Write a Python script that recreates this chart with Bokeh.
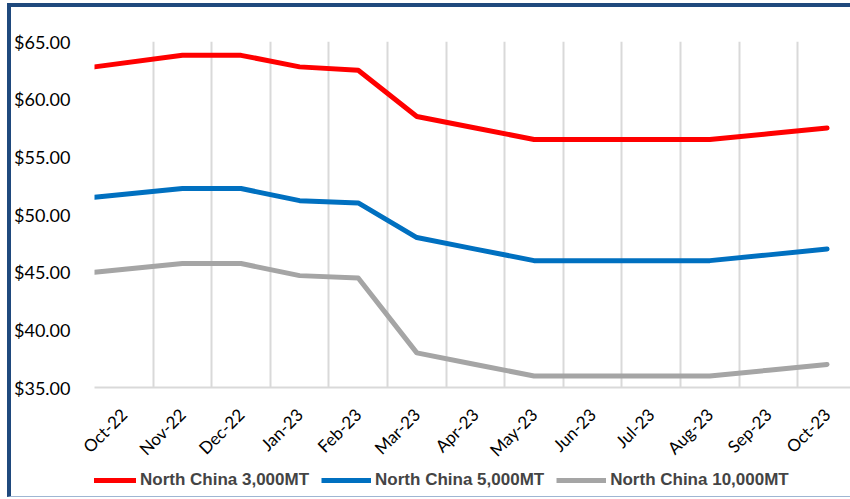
import math
from bokeh.plotting import figure
from bokeh.models import FixedTicker, Legend, LegendItem, Range1d
from bokeh.layouts import column
from bokeh.embed import file_html
from bokeh.resources import INLINE

# ---- data ----
months = ["Oct-22", "Nov-22", "Dec-22", "Jan-23", "Feb-23", "Mar-23", "Apr-23",
          "May-23", "Jun-23", "Jul-23", "Aug-23", "Sep-23", "Oct-23"]
# month index of each point (first point sits at the left edge of the plot)
x_pos = [-0.5, 1, 2, 3, 4, 5, 6, 7, 8, 9, 10, 11, 12]
nc_3000 = [62.8, 63.8, 63.8, 62.8, 62.5, 58.5, 57.5, 56.5, 56.5, 56.5, 56.5, 57.0, 57.5]
nc_5000 = [51.5, 52.25, 52.25, 51.2, 51.0, 48.0, 47.0, 46.0, 46.0, 46.0, 46.0, 46.5, 47.0]
nc_10000 = [45.0, 45.75, 45.75, 44.7, 44.5, 38.0, 37.0, 36.0, 36.0, 36.0, 36.0, 36.5, 37.0]
y_ticks = [35, 40, 45, 50, 55, 60, 65]
series_names = ["North China 3,000MT", "North China 5,000MT", "North China 10,000MT"]
colors = ["#FF0000", "#0070C0", "#A5A5A5"]
series = [nc_3000, nc_5000, nc_10000]

p = figure(width=839, height=464, output_backend="svg", toolbar_location=None,
           x_range=Range1d(-0.5, 12.4), y_range=Range1d(35, 65),
           min_border_left=80, min_border_right=0, min_border_top=34,
           min_border_bottom=84)
p.outline_line_color = None
p.background_fill_color = "white"

for ys, c in zip(series, colors):
    p.line(x_pos, ys, line_color=c, line_width=5, line_join="round", line_cap="round")

# axes
p.xaxis.ticker = FixedTicker(ticks=list(range(len(months))))
p.xaxis.major_label_overrides = {i: m for i, m in enumerate(months)}
p.xaxis.major_label_orientation = math.pi / 4
p.xaxis.major_tick_line_color = None
p.xaxis.minor_tick_line_color = None
p.xaxis.axis_line_color = "#D9D9D9"
p.xaxis.axis_line_width = 2
p.xaxis.major_label_text_font = "Lato"
p.xaxis.major_label_text_font_size = "17px"
p.xaxis.major_label_text_color = "#000000"
p.xaxis.major_label_standoff = 18

p.yaxis.ticker = FixedTicker(ticks=y_ticks)
p.yaxis.major_label_overrides = {t: "${:.2f}".format(t) for t in y_ticks}
p.yaxis.major_tick_line_color = None
p.yaxis.minor_tick_line_color = None
p.yaxis.axis_line_color = None
p.yaxis.major_label_text_font = "Lato"
p.yaxis.major_label_text_font_size = "18px"
p.yaxis.major_label_text_color = "#000000"
p.yaxis.major_label_standoff = 18

p.ygrid.grid_line_color = None
p.xgrid.ticker = FixedTicker(ticks=[i - 0.5 for i in range(len(months) + 1)])
p.xgrid.grid_line_color = "#D9D9D9"
p.xgrid.grid_line_width = 2

# legend strip below the chart (its lines lie outside its visible range)
lg = figure(width=839, height=25, output_backend="svg", toolbar_location=None,
            x_range=Range1d(-0.5, 12.4), y_range=Range1d(1000, 1001),
            min_border_left=0, min_border_right=0, min_border_top=0, min_border_bottom=0)
lg.axis.visible = False
lg.grid.visible = False
lg.outline_line_color = None
lg_renderers = [lg.line(x_pos, ys, line_color=c, line_width=5) for ys, c in zip(series, colors)]

legend = Legend(items=[LegendItem(label=n, renderers=[r]) for n, r in zip(series_names, lg_renderers)],
                orientation="horizontal", location=(-8, 6))
legend.glyph_width = 50
legend.glyph_height = 18
legend.label_standoff = 4
legend.spacing = 12
legend.padding = 0
legend.margin = 0
legend.border_line_color = None
legend.background_fill_alpha = 0
legend.label_text_font = "Liberation Sans"
legend.label_text_font_style = "bold"
legend.label_text_font_size = "17px"
lg.add_layout(legend, "center")

layout = column(p, lg, spacing=0)
layout.styles = {"border-top": "4px solid #1F497D", "border-left": "4px solid #1F497D",
                 "border-bottom": "1px solid #9FB6D3", "margin-left": "7px", "margin-top": "3px"}

open("out.html", "w").write(file_html(layout, INLINE))
